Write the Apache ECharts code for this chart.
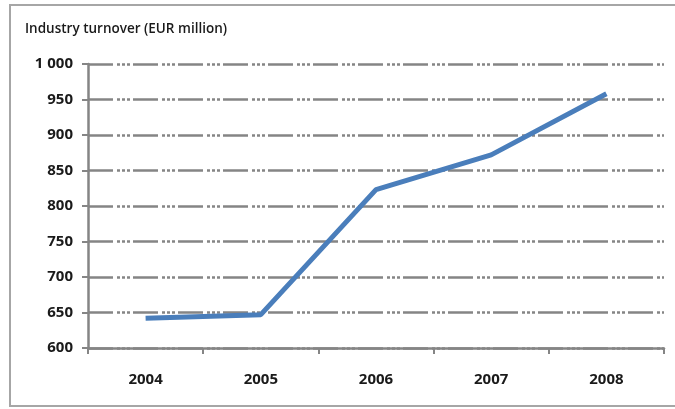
<!DOCTYPE html>
<html lang="en">
<head>
    <meta charset="UTF-8">
    <title>Industry turnover</title>
    <script src="https://cdn.jsdelivr.net/npm/echarts@6/dist/echarts.min.js"></script>
    <style>
        html, body { margin: 0; padding: 0; background: #fff; }
    </style>
</head>
<body>
<div id="main" style="width: 675px;height:409px;"></div>

<script type="text/javascript">
    var years = ['2004', '2005', '2006', '2007', '2008'];
    var turnover = [642, 647, 823, 872, 958];

    var myChart = echarts.init(document.getElementById('main'));
    var gridLine = {
        color: '#858585',
        width: 2.5,
        type: [25, 4, 3, 2, 3, 2, 3, 3]
    };
    var axisFont = {
        fontFamily: 'Open Sans',
        fontWeight: 'bold',
        fontSize: 15,
        color: '#1a1a1a'
    };

    var option = {
        animation: false,
        graphic: [
            {
                type: 'rect',
                shape: { x: 10, y: 5, width: 680, height: 401 },
                style: { fill: 'none', stroke: '#a6a6a6', lineWidth: 2 }
            },
            {
                type: 'text',
                left: 25,
                top: 22,
                style: {
                    text: 'Industry turnover (EUR million)',
                    font: '600 13.5px "Open Sans"',
                    fill: '#1a1a1a'
                }
            }
        ],
        grid: {
            left: 88,
            right: 11,
            top: 64,
            bottom: 61
        },
        xAxis: {
            type: 'category',
            data: years,
            boundaryGap: true,
            axisLine: { lineStyle: { color: '#858585', width: 2.5 } },
            axisTick: { show: true, length: 6, lineStyle: { color: '#858585', width: 2 } },
            axisLabel: Object.assign({ margin: 24 }, axisFont),
            splitLine: { show: false }
        },
        yAxis: {
            type: 'value',
            min: 600,
            max: 1000,
            interval: 50,
            axisLine: { show: true, lineStyle: { color: '#858585', width: 2.5 } },
            axisTick: { show: true, length: 6, lineStyle: { color: '#858585', width: 2 } },
            axisLabel: Object.assign({
                margin: 15,
                formatter: function (v) {
                    return v >= 1000 ? '1 000' : String(v);
                }
            }, axisFont),
            splitLine: { show: true, lineStyle: gridLine }
        },
        series: [
            {
                name: 'Industry turnover',
                type: 'line',
                data: turnover,
                symbol: 'none',
                lineStyle: { color: '#4a7ebb', width: 5 },
                z: 5
            }
        ]
    };

    myChart.setOption(option);
</script>
</body>
</html>
